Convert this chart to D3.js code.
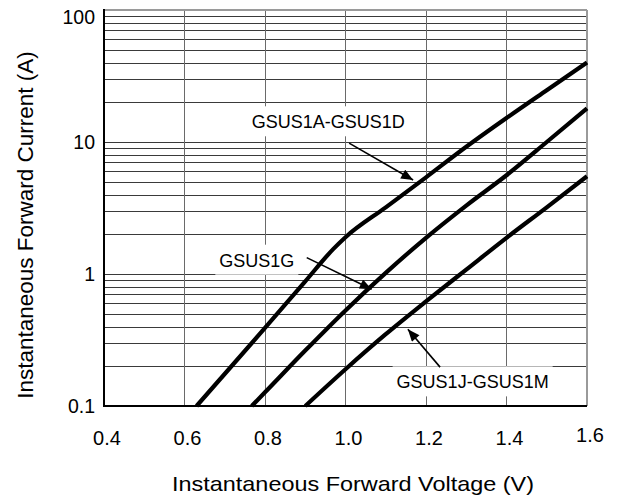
<!DOCTYPE html>
<html>
<head>
<meta charset="utf-8">
<script src="https://cdn.jsdelivr.net/npm/d3@7"></script>
<style>
  html, body { margin: 0; padding: 0; background: #fff; }
  svg { display: block; font-family: Arial, "Liberation Sans", sans-serif; }
</style>
</head>
<body>
<svg id="chart" width="621" height="497"></svg>
<script>
// ---------------- data ----------------
const xTicks = [0.4, 0.6, 0.8, 1.0, 1.2, 1.4, 1.6];
const xTickLabels = ["0.4", "0.6", "0.8", "1.0", "1.2", "1.4", "1.6"];
const yTicks = [0.1, 1, 10, 100];
const yTickLabels = ["0.1", "1", "10", "100"];

const seriesNames = ["GSUS1A-GSUS1D", "GSUS1G", "GSUS1J-GSUS1M"];
const voltsA = [0.63, 0.80, 0.90, 0.97, 1.00, 1.10, 1.20, 1.30, 1.40, 1.50, 1.60];
const ampsA  = [0.10, 0.39, 0.88, 1.55, 1.90, 3.20, 5.40, 9.20, 15.2, 24.7, 40.0];
const voltsG = [0.767, 0.80, 0.90, 1.00, 1.10, 1.20, 1.30, 1.40, 1.50, 1.60];
const ampsG  = [0.10, 0.127, 0.263, 0.53, 1.02, 1.88, 3.30, 5.60, 10.0, 18.0];
const voltsJ = [0.90, 1.00, 1.10, 1.20, 1.30, 1.40, 1.50, 1.60];
const ampsJ  = [0.10, 0.19, 0.35, 0.62, 1.08, 1.88, 3.20, 5.50];

// label anchor (voltage, current) and arrow (from -> tip) in data units
const labelV = [0.767, 0.6865, 1.127];
const labelI = [12.7, 1.136, 0.136];
const arrowFromV = [1.009, 0.9036, 1.235];
const arrowFromI = [9.8, 1.33, 0.197];
const arrowToV = [1.168, 1.065, 1.155];
const arrowToI = [5.15, 0.766, 0.381];

const xTitle = "Instantaneous Forward Voltage (V)";
const yTitle = "Instantaneous Forward Current (A)";

// ---------------- layout ----------------
const svg = d3.select("#chart");
const pLeft = 104, pRight = 587, pTop = 10, pBottom = 406;

const x = d3.scaleLinear().domain([0.4, 1.6]).range([pLeft, pRight]);
const y = d3.scaleLog().domain([0.1, 100]).range([pBottom, pTop]);

// grid: horizontal at minor log ticks
const hGrid = [];
[0.1, 1, 10].forEach(d => { for (let k = 1; k <= 9; k++) hGrid.push(d * k); });
hGrid.push(100);

const grid = svg.append("g");
grid.selectAll("line.h").data(hGrid).join("line")
  .attr("x1", pLeft).attr("x2", pRight)
  .attr("y1", d => Math.round(y(d)) + 0.5).attr("y2", d => Math.round(y(d)) + 0.5)
  .attr("stroke", "#3a3a3a").attr("stroke-width", 1);
grid.selectAll("line.v").data(xTicks.slice(1, -1)).join("line")
  .attr("x1", d => Math.round(x(d)) + 0.5).attr("x2", d => Math.round(x(d)) + 0.5)
  .attr("y1", pTop).attr("y2", pBottom)
  .attr("stroke", "#6a6a6a").attr("stroke-width", 1);

// label white boxes (drawn after measuring text)
const boxLayer = svg.append("g");

// frame
svg.append("line").attr("x1", pLeft).attr("x2", pRight).attr("y1", pTop).attr("y2", pTop)
  .attr("stroke", "#9a9a9a").attr("stroke-width", 2);
svg.append("line").attr("x1", pRight).attr("x2", pRight).attr("y1", pTop).attr("y2", pBottom)
  .attr("stroke", "#9a9a9a").attr("stroke-width", 2);
svg.append("line").attr("x1", pLeft).attr("x2", pLeft).attr("y1", pTop - 1).attr("y2", pBottom + 1)
  .attr("stroke", "#000").attr("stroke-width", 2);
svg.append("line").attr("x1", pLeft - 1).attr("x2", pRight).attr("y1", pBottom).attr("y2", pBottom)
  .attr("stroke", "#000").attr("stroke-width", 2);

// curves
const series = [
  voltsA.map((v, i) => [v, ampsA[i]]),
  voltsG.map((v, i) => [v, ampsG[i]]),
  voltsJ.map((v, i) => [v, ampsJ[i]])
];
const line = d3.line().x(d => x(d[0])).y(d => y(d[1])).curve(d3.curveMonotoneX);
svg.append("g").selectAll("path").data(series).join("path")
  .attr("d", line)
  .attr("fill", "none").attr("stroke", "#000").attr("stroke-width", 4.2)
  .attr("stroke-linejoin", "round");

// arrows
svg.append("defs").append("marker")
  .attr("id", "ah").attr("viewBox", "0 0 12 10").attr("refX", 12).attr("refY", 5)
  .attr("markerUnits", "userSpaceOnUse").attr("markerWidth", 13).attr("markerHeight", 10)
  .attr("orient", "auto")
  .append("path").attr("d", "M0,0 L12,5 L0,10 Z").attr("fill", "#000");
svg.append("g").selectAll("line").data(seriesNames).join("line")
  .attr("x1", (d, i) => x(arrowFromV[i])).attr("y1", (d, i) => y(arrowFromI[i]))
  .attr("x2", (d, i) => x(arrowToV[i])).attr("y2", (d, i) => y(arrowToI[i]))
  .attr("stroke", "#000").attr("stroke-width", 1.6)
  .attr("marker-end", "url(#ah)");

// labels
const labels = svg.append("g").selectAll("text").data(seriesNames).join("text")
  .attr("x", (d, i) => x(labelV[i])).attr("y", (d, i) => y(labelI[i]))
  .attr("font-size", 18).attr("fill", "#000")
  .text(d => d);
labels.each(function () {
  const b = this.getBBox();
  boxLayer.append("rect")
    .attr("x", b.x - 4).attr("y", b.y - 6)
    .attr("width", b.width + 8).attr("height", b.height + 10)
    .attr("fill", "#fff");
});

// tick labels
svg.append("g").selectAll("text").data(yTicks).join("text")
  .attr("x", pLeft - 9)
  .attr("y", d => Math.max(y(d), pTop + 7))
  .attr("dy", "0.35em")
  .attr("text-anchor", "end").attr("font-size", 19.5).attr("fill", "#000")
  .text((d, i) => yTickLabels[i]);
svg.append("g").selectAll("text").data(xTicks).join("text")
  .attr("x", d => x(d) + 3)
  .attr("y", (d, i) => i === xTicks.length - 1 ? 442 : 445)
  .attr("text-anchor", "middle").attr("font-size", 20).attr("fill", "#000")
  .text((d, i) => xTickLabels[i]);

// axis titles
svg.append("text")
  .attr("x", 353).attr("y", 491)
  .attr("text-anchor", "middle").attr("font-size", 21).attr("fill", "#000")
  .attr("textLength", 362).attr("lengthAdjust", "spacingAndGlyphs")
  .text(xTitle);
svg.append("text")
  .attr("transform", "translate(33,225) rotate(-90)")
  .attr("text-anchor", "middle").attr("font-size", 22.5).attr("fill", "#000")
  .text(yTitle);
</script>
</body>
</html>
